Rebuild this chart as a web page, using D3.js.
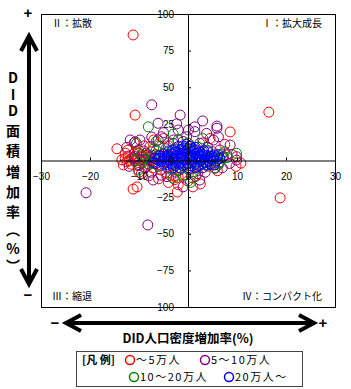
<!DOCTYPE html>
<html>
<head>
<meta charset="utf-8">
<script src="https://cdn.jsdelivr.net/npm/d3@7"></script>
<style>
  body { margin: 0; background: #fff; }
  svg { display: block; }
</style>
</head>
<body>
<div id="chart"></div>
<script>
// chart values
const seriesNames = ["～5万人", "5～10万人", "10～20万人", "20万人～"];
const xTicks = [-30, -20, -10, 0, 10, 20, 30];
const yTicks = [100, 75, 50, 25, 0, -25, -50, -75, -100];
const quadrantNames = ["Ⅰ：拡大成長", "Ⅱ：拡散", "Ⅲ：縮退", "Ⅳ：コンパクト化"];

// [DID人口密度増加率, DID面積増加率]
const pop5 = [
  [-11.2, 85.7], [16.5, 33], [18.8, -25.5], [8.6, 19.5], [-14.5, 8], [-10.8, 31], [-11.2, -19.5],
  [-10.4, -18], [10.8, -1.8], [-2.7, -13], [1, -18], [-0.6, -10], [-1.6, -6.5], [7.5, 11],
  [-12.8, 1.5], [-12.5, -1], [-12.2, 3], [-12, 0], [-11.6, -2.5], [-11.3, 2], [-11, 4.5],
  [-10.8, -0.5], [-10.5, 1.5], [-10.2, -3.5], [-10, 5], [-9.8, 0.5], [-9.5, 3], [-9.2, -1.5],
  [-9.2, 2.4], [-9, 6.5], [-8.8, -4.5], [-8.5, 1], [-8.2, 3.5], [-8, -2.5], [-7.8, 0], [-7.5, 6],
  [-7.2, -5], [-7, 2], [-6.8, -1], [-6.5, 4], [-6.2, -3], [-6, 1], [-5.5, -6.5], [-5, 3],
  [-4.5, -8], [-4, 10], [-3.5, -10.5], [-3, 0], [-2, -11.5], [-1.5, 5], [0, -14], [0.5, 8],
  [1.5, -5], [2, -9], [3, 12], [4, -4], [5, 6], [6, -7], [7, 2], [9, 4], [9.8, -4],
  [-13.2, -3], [-12.8, 5], [-10, -8], [-8, -10.5], [-6, -12.5], [-5, 15], [-9, 10], [-11, 12],
  [-7, 14], [2.5, -16], [4.5, 15], [-12.3, 7], [-13.5, 0.5], [-4, -15], [-2, -16.5], [-2.2, -21.5]
];
const pop5to10 = [
  [-20.8, -22], [-8.2, -44], [-7.4, 38], [-1.6, 31], [-6.1, 25.4], [-9.8, 14], [-7.4, 16],
  [-2.3, 25], [1.4, 19.7], [3.8, 18.5], [5.9, 22], [2.4, 11.7], [5.2, 14], [-10.1, 7.2],
  [-10.8, 12.8], [-7.1, -13.3], [-4.3, -11], [2.4, -13.3], [5.5, -5.3], [7.9, 3.8], [9.9, 0.3],
  [6.5, 7.2], [-8.8, -5.3], [-1, -18], [-6.1, 14], [-5, 19], [-0.3, 16.2], [0.1, 20.8],
  [5.9, 23.5], [8.6, 10.6], [6.2, 16.2], [1.4, 23], [9.9, 2.6], [7.2, 2.6], [6.2, -2],
  [-11.8, 14], [-10.8, 2.6], [-7.8, 9.4], [-5.4, 16.2], [-2, 20.8], [-3, 11.7],
  [-9, 0], [-8, 2], [-7, -2], [-6, 3], [-5, -1], [-4, 4], [-3, -3], [-2, 1], [-1, 5], [0, -2],
  [1, 3], [2, -4], [3, 6], [4, 0], [5, -3], [-10, -3], [-11, 1], [-6.5, 7], [-4.5, 8],
  [-3.5, -6], [-2.5, -8], [0.5, 10], [3.5, -8], [-7.5, -8], [-5.5, -10], [1.5, -11], [-12, -4],
  [-8.5, 5], [-3, 14], [4, 9], [-1, 13], [7, -5], [8.5, -2], [-9.5, -9], [-12.5, 9], [3, 27]
];
const pop10to20 = [
  [-8.1, 23], [-10.1, -6.5], [9.9, 4.9], [6.2, -3.1], [1.1, -7.6], [-6, 10], [-4, 12], [-2, 14],
  [0, 12], [2, 9], [4, 7], [5, 3], [6, 1], [-3, 7], [-1, 8], [1, 6], [3, 4], [-5, 5], [-7, 3],
  [-9, 1], [-8, -3], [-6, -4], [-4, -5], [-2, -7], [0, -6], [2, -5], [4, -3], [5.5, -5],
  [-1, -10], [1, -12], [-3, -12], [8, 2], [7.5, 6], [3, 15], [-7, 8], [-9.5, 4], [-3, 18],
  [-5.5, 1], [-3.5, 2], [-1.5, 3], [0.5, 1], [2.5, 2], [4.5, 1.5], [6.5, -1], [-7.5, -1],
  [-11, 0], [-2.5, -2], [-0.5, -3], [1.5, -1], [3.5, -1.5], [6.8, 4], [-6.5, 13], [-10.5, 11.7],
  [0.5, -15]
];
const pop20 = [
  [-6.2, 0.5], [-5.4, -0.5], [-4.6, 1], [-3.8, 0], [-3, 1.5], [-2.2, -0.5], [-1.4, 2], [-0.6, 0.5],
  [0.2, 1.8], [1, -0.3], [1.8, 1.2], [2.6, 0.2], [3.4, 1.6], [4.2, -0.4], [5, 0.8], [5.8, -0.2],
  [-5.8, 3.2], [-5, 4], [-4.2, 3], [-3.4, 4.5], [-2.6, 3.4], [-1.8, 5], [-1, 3.6], [-0.2, 4.8],
  [0.6, 3.2], [1.4, 4.6], [2.2, 3.3], [3, 4.2], [3.8, 3.5], [4.6, 3], [5.4, 3.8],
  [-4, 6.5], [-3.2, 7], [-2.4, 6.2], [-1.6, 7.5], [-0.8, 6.6], [0, 8], [0.8, 6.4], [1.6, 7.2],
  [2.4, 6], [3.2, 6.8], [4, 6], [-2, 9.5], [-1, 10], [0.4, 9.6], [1.5, 9], [-0.3, 11],
  [-5, -2.5], [-4.2, -3], [-3.4, -2], [-2.6, -3.5], [-1.8, -2.4], [-1, -3.2], [-0.2, -2],
  [0.6, -3.6], [1.4, -2.6], [2.2, -3.4], [3, -2.2], [3.8, -3], [4.6, -2.5], [5.4, -3],
  [-3, -5], [-1.5, -5.2], [0, -5], [1.5, -4.8], [3, -5], [-6.8, 1.5], [-7, -1], [-6.5, -2],
  [6.5, 1.5], [6.2, 4], [-4.8, 2], [-3.6, 2.6], [-2.4, 1.8], [-1.2, 1.2], [0.4, 2.6], [1.6, 2.8],
  [2.8, 2.4], [4, 2.2], [5.2, 1.8], [-2.8, 5.4], [-0.4, 6.2], [2, 5], [-4, -1.2], [-1.6, -1.4],
  [0.8, -1.6], [3.2, -1], [-0.8, 8.6], [1, 8], [-5.8, 1.6], [6, 2.6]
];
const seriesData = [pop5, pop5to10, pop10to20, pop20];

const width = 351, height = 389;
const svg = d3.select("#chart").append("svg")
    .attr("width", width)
    .attr("height", height);

const numFont = "'Liberation Sans', Arial, sans-serif";
const jpFont = "'Noto Sans CJK JP', sans-serif";

const x = d3.scaleLinear().domain([-30, 30]).range([41, 335]);
const y = d3.scaleLinear().domain([-100, 100]).range([307, 14]);
const color = d3.scaleOrdinal()
    .domain(seriesNames)
    .range(["#ff0000", "#800080", "#008000", "#0000ff"]);

// plot frame
svg.append("rect")
    .attr("x", x(-30) + 0.5).attr("y", y(100) + 0.5)
    .attr("width", x(30) - x(-30)).attr("height", y(-100) - y(100))
    .attr("fill", "#fff").attr("stroke", "#000");

// quadrant names
svg.append("g").attr("font-family", jpFont).attr("font-size", 10).attr("fill", "#000")
  .selectAll("text").data(quadrantNames).join("text")
    .attr("x", (d, i) => i == 0 || i == 3 ? 322 : 52)
    .attr("y", (d, i) => i < 2 ? 27 : 300)
    .attr("text-anchor", (d, i) => i == 0 || i == 3 ? "end" : "start")
    .text(d => d);

// points
const groups = svg.append("g").selectAll("g").data(seriesData).join("g")
    .attr("stroke", (d, i) => color(seriesNames[i]))
    .attr("fill", "none")
    .attr("stroke-width", 1);
groups.selectAll("circle").data(d => d).join("circle")
    .attr("cx", d => x(d[0]))
    .attr("cy", d => y(d[1]))
    .attr("r", 5);

// axes through zero
const xAxis = svg.append("g")
    .attr("transform", `translate(0,${y(0)})`)
    .call(d3.axisBottom(x).tickValues(xTicks).tickSize(-3).tickSizeOuter(0).tickPadding(12));
const yAxis = svg.append("g")
    .attr("transform", `translate(${x(0)},0)`)
    .call(d3.axisLeft(y).tickValues(yTicks).tickSize(-3).tickSizeOuter(0).tickPadding(14));
[xAxis, yAxis].forEach(a => {
  a.attr("font-family", numFont).attr("font-size", 10);
  a.selectAll("line, path").attr("stroke", "#000");
  a.selectAll("text").attr("fill", "#000");
});

// arrows
function chevronV(cx, tip, dir) {
  return `M${cx - 8},${tip - dir * 15}L${cx},${tip}L${cx + 8},${tip - dir * 15}`;
}
function chevronH(cy, tip, dir) {
  return `M${tip - dir * 15},${cy - 8}L${tip},${cy}L${tip - dir * 15},${cy + 8}`;
}
const arrows = svg.append("g").attr("stroke", "#000").attr("fill", "none")
    .attr("stroke-width", 4).attr("stroke-linejoin", "miter");
arrows.append("line").attr("x1", 29).attr("x2", 29).attr("y1", 37).attr("y2", 283);
arrows.append("path").attr("d", chevronV(29, 36, -1));
arrows.append("path").attr("d", chevronV(29, 284, 1));
arrows.append("line").attr("x1", 67).attr("x2", 313).attr("y1", 323).attr("y2", 323);
arrows.append("path").attr("d", chevronH(323, 66, -1));
arrows.append("path").attr("d", chevronH(323, 314, 1));

const signs = svg.append("g").attr("font-family", numFont).attr("font-weight", "bold")
    .attr("font-size", 15).attr("text-anchor", "middle").attr("fill", "#000");
signs.append("text").attr("x", 28).attr("y", 18).text("+");
signs.append("text").attr("x", 28).attr("y", 300).text("−");
signs.append("text").attr("x", 55).attr("y", 328).text("−");
signs.append("text").attr("x", 323).attr("y", 328).text("+");

// vertical axis title
const yTitle = ["D", "I", "D", "面", "積", "増", "加", "率", "︵", "%", "︶"];
const yTitlePos = [78, 95, 111, 131, 151, 172, 192, 212, 230, 249, 266];
svg.append("g").attr("font-family", jpFont).attr("font-weight", "bold")
    .attr("font-size", 14).attr("text-anchor", "middle").attr("fill", "#000")
  .selectAll("text").data(yTitle).join("text")
    .attr("x", 13)
    .attr("y", (d, i) => yTitlePos[i])
    .attr("dy", "0.36em")
    .text(d => d);

// horizontal axis title
svg.append("text")
    .attr("x", 188).attr("y", 343)
    .attr("text-anchor", "middle")
    .attr("font-family", jpFont).attr("font-weight", "bold").attr("font-size", 12.5)
    .text("DID人口密度増加率(%)");

// legend
const legend = svg.append("g").attr("font-family", jpFont).attr("font-size", 11);
legend.append("rect")
    .attr("x", 76.5).attr("y", 351.5).attr("width", 226).attr("height", 35)
    .attr("fill", "#fff").attr("stroke", "#444");
legend.append("text").attr("x", 82).attr("y", 364)
    .attr("font-weight", "bold").text("[凡 例]");
const legendPos = [[130, 360], [205, 360], [134, 377], [229, 377]];
const items = legend.selectAll("g.item").data(seriesNames).join("g")
    .attr("class", "item")
    .attr("transform", (d, i) => `translate(${legendPos[i][0]},${legendPos[i][1]})`);
items.append("circle").attr("r", 4.5).attr("fill", "none")
    .attr("stroke", d => color(d)).attr("stroke-width", 1.5);
items.append("text").attr("x", 6).attr("y", 4)
    .attr("letter-spacing", 1.5)
    .text(d => d);
</script>
</body>
</html>
